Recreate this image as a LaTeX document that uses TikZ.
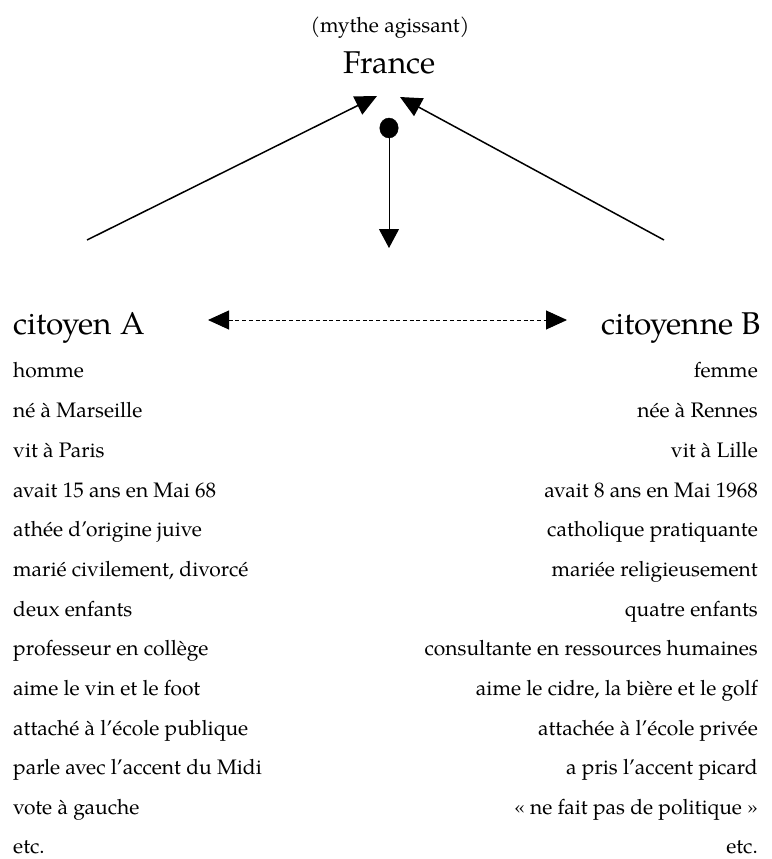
\documentclass[tikz,border=0pt]{standalone}
\usepackage{fontspec}
\setmainfont{TeX Gyre Pagella}
\usetikzlibrary{arrows.meta,shapes.geometric}
\begin{document}
\begin{tikzpicture}[x=1pt,y=-1pt,
  body/.style={inner sep=0pt,font=\fontsize{21}{24}\selectfont},
  lbody/.style={body,anchor=base west},
  rbody/.style={body,anchor=base east},
  head/.style={inner sep=0pt,font=\fontsize{31.5}{34}\selectfont},
  tri/.style={-{Triangle[length=21.5pt,width=20pt]}},
  conn/.style={line width=1.5pt,tri},
  dconn/.style={line width=0.9pt,dash pattern=on 4pt off 2.7pt,
    {Triangle[length=21pt,width=19pt]}-{Triangle[length=21pt,width=19pt]}}
]
\useasboundingbox[fill=white] (0,0) rectangle (771,859);
\node[inner sep=0pt,anchor=base,font=\fontsize{21}{24}\selectfont] (mythe) at (390,33) {(mythe agissant)};
\node[head,anchor=base] (france) at (390,74) {France};

\coordinate (lstart) at (87,240);
\coordinate (ltip) at (377,96);
\coordinate (rstart) at (664,240);
\coordinate (rtip) at (400,97);
\node[draw,fill=black,ellipse,minimum width=18.5pt,minimum height=20pt,inner sep=0pt] (dot) at (389,128) {};
\coordinate (vtip) at (389,248);

\draw[conn] (lstart) -- (ltip);
\draw[conn] (rstart) -- (rtip);
\draw[line width=1pt,-{Triangle[length=19pt,width=20pt]}] (dot.center) -- (vtip);

\node[head,anchor=base west] (ca) at (13,334) {citoyen A};
\node[head,anchor=base east] (cb) at (761,334) {citoyenne B};
\coordinate (dl) at (208,320);
\coordinate (dr) at (567,320);
\draw[dconn] (dl) -- (dr);

\node[lbody] (a1) at (13,377) {homme};
\node[lbody] (a2) at (13,417) {né à Marseille};
\node[lbody] (a3) at (13,457) {vit à Paris};
\node[lbody] (a4) at (13,497) {avait 15 ans en Mai 68};
\node[lbody] (a5) at (13,536) {athée d’origine juive};
\node[lbody] (a6) at (13,576) {marié civilement, divorcé};
\node[lbody] (a7) at (13,616) {deux enfants};
\node[lbody] (a8) at (13,655) {professeur en collège};
\node[lbody] (a9) at (13,695) {aime le vin et le foot};
\node[lbody] (a10) at (13,735) {attaché à l’école publique};
\node[lbody] (a11) at (13,774) {parle avec l’accent du Midi};
\node[lbody] (a12) at (13,814) {vote à gauche};
\node[lbody] (a13) at (13,853) {etc.};

\node[rbody] (b1) at (758,377) {femme};
\node[rbody] (b2) at (758,417) {née à Rennes};
\node[rbody] (b3) at (758,457) {vit à Lille};
\node[rbody] (b4) at (758,497) {avait 8 ans en Mai 1968};
\node[rbody] (b5) at (758,536) {catholique pratiquante};
\node[rbody] (b6) at (758,576) {mariée religieusement};
\node[rbody] (b7) at (758,616) {quatre enfants};
\node[rbody] (b8) at (758,655) {consultante en ressources humaines};
\node[rbody] (b9) at (758,695) {aime le cidre, la bière et le golf};
\node[rbody] (b10) at (758,735) {attachée à l’école privée};
\node[rbody] (b11) at (758,774) {a pris l’accent picard};
\node[rbody] (b12) at (758,814) {« ne fait pas de politique »};
\node[rbody] (b13) at (758,853) {etc.};
\end{tikzpicture}
\end{document}
